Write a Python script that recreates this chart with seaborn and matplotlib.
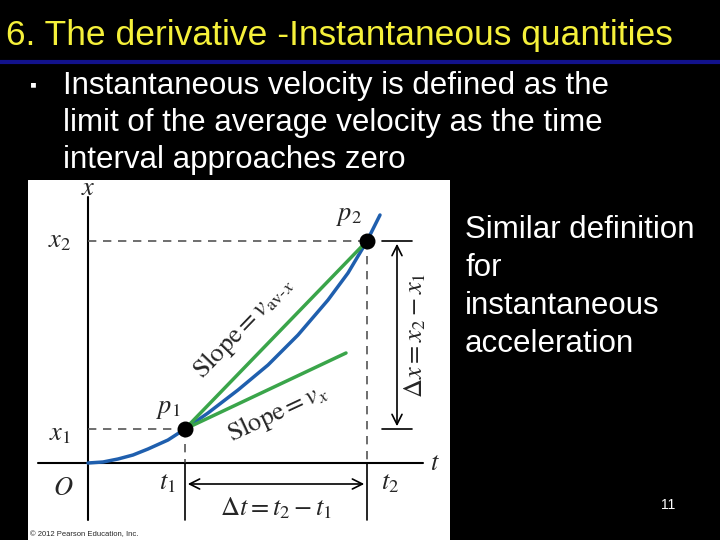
import numpy as np
import pandas as pd
import matplotlib
matplotlib.use("Agg")
import matplotlib.pyplot as plt
import seaborn as sns

sns.set_theme(style="white")
plt.rcParams['font.family'] = ['Liberation Sans', 'DejaVu Sans']
plt.rcParams['mathtext.fontset'] = 'stix'

# diagram data (time t, position x) in arbitrary units
curve_t = [0, 15, 30, 45, 60, 80, 97, 120, 150, 180, 210, 240, 260, 279, 292]
curve_x = [0, 1, 4, 8, 14, 23, 34, 50, 73, 98, 128, 163, 190, 222, 248]
p_t = [97, 279]
p_x = [34, 222]
tangent_t = [97, 258]
tangent_x = [34, 110]

title = "6. The derivative -Instantaneous quantities"
bullet_lines = ["Instantaneous velocity is defined as the",
                "limit of the average velocity as the time",
                "interval approaches zero"]
side_lines = ["Similar definition", "for", "instantaneous", "acceleration"]
page = "11"

fig = plt.figure(figsize=(7.2, 5.4), dpi=100, facecolor="black")
bg = fig.add_axes([0, 0, 1, 1])
bg.set_xlim(0, 720); bg.set_ylim(540, 0); bg.axis("off")
bg.set_facecolor("black")
bg.text(6, 36, title, color="#f5f03a", fontsize=25.5, va="center", ha="left")
bg.plot([0, 720], [62, 62], color="#12128c", lw=3)
bg.text(30, 86, "\u25aa", color="white", fontsize=14, va="center")
for i, line in enumerate(bullet_lines):
    bg.text(63, 86 + 37 * i, line, color="white", fontsize=22.5, va="center")
for i, line in enumerate(side_lines):
    bg.text(465, 230 + 38 * i, line, color="white", fontsize=22.5, va="center")
bg.text(668, 505, page, color="white", fontsize=10, ha="center", va="center")

# diagram panel: pixels x 28..450, y 180..540 ; origin at pixel (88,463)
ax = fig.add_axes([28/720, 0, 422/720, 360/540])
ax.set_facecolor("white")
ax.set_xlim(-60, 362); ax.set_ylim(-77, 283)
ax.axis("off")
ax.add_patch(plt.Rectangle((-60, -77), 422, 360, color="white", zorder=0))

t1, t2 = p_t; x1, x2 = p_x
ax.plot([0, 0], [-57, 266], color="black", lw=1.5)
ax.plot([-50, 335], [0, 0], color="black", lw=1.5)
ax.plot([0, t2], [x2, x2], color="#555", lw=1.2, ls=(0, (5, 4)))
ax.plot([0, t1], [x1, x1], color="#555", lw=1.2, ls=(0, (5, 4)))
ax.plot([t2, t2], [x2, 0], color="#555", lw=1.2, ls=(0, (5, 4)))
ax.plot([t1, t1], [x1, 0], color="#555", lw=1.2, ls=(0, (5, 4)))
ax.plot([t1, t1], [0, -57], color="black", lw=1.2)
ax.plot([t2, t2], [0, -57], color="black", lw=1.2)
ax.plot([t2 + 15, t2 + 45], [x2, x2], color="black", lw=1.2)
ax.plot([t2 + 15, t2 + 45], [x1, x1], color="black", lw=1.2)
ax.annotate("", xy=(t2 + 30, x2), xytext=(t2 + 30, x1),
            arrowprops=dict(arrowstyle="<->", color="black", lw=1.2, mutation_scale=18))
ax.annotate("", xy=(t2, -21), xytext=(t1, -21),
            arrowprops=dict(arrowstyle="<->", color="black", lw=1.2, mutation_scale=18))

df = pd.DataFrame({"t": curve_t, "x": curve_x})
sns.lineplot(data=df, x="t", y="x", ax=ax, color="#1f5fae", lw=2.5, sort=False)
sns.lineplot(x=p_t, y=p_x, ax=ax, color="#3aa54a", lw=2.5)
sns.lineplot(x=tangent_t, y=tangent_x, ax=ax, color="#3aa54a", lw=2.5)
ax.scatter(p_t, p_x, s=110, color="black", zorder=5)

fs = 19
ax.text(0, 275, "$x$", fontsize=fs, ha="center", va="center")
ax.text(-28, x2, "$x_2$", fontsize=fs, ha="center", va="center")
ax.text(-28, x1 - 5, "$x_1$", fontsize=fs, ha="center", va="center")
ax.text(-25, -25, "$O$", fontsize=fs, ha="center", va="center")
ax.text(t1 - 18, -20, "$t_1$", fontsize=fs, ha="center", va="center")
ax.text(t2 + 23, -20, "$t_2$", fontsize=fs, ha="center", va="center")
ax.text(347, 0, "$t$", fontsize=fs, ha="center", va="center")
ax.text(t2 - 18, 247, "$p_2$", fontsize=fs, ha="center", va="center")
ax.text(t1 - 17, 54, "$p_1$", fontsize=fs, ha="center", va="center")
ax.text((t1 + t2) / 2, -45, r"$\Delta t = t_2 - t_1$", fontsize=fs, ha="center", va="center")
ax.text(t2 + 48, 128, r"$\Delta x = x_2 - x_1$", fontsize=fs, ha="center", va="center", rotation=90)
ax.text(155, 135, r"$\mathrm{Slope} = v_{\mathrm{av}\text{-}x}$", fontsize=19,
        ha="center", va="center", rotation=46)
ax.text(190, 50, r"$\mathrm{Slope} = v_x$", fontsize=19,
        ha="center", va="center", rotation=25)
ax.text(-58, -72, "\u00a9 2012 Pearson Education, Inc.", fontsize=5.5, ha="left", va="center")

fig.savefig("out.png", dpi=100, facecolor="black")
